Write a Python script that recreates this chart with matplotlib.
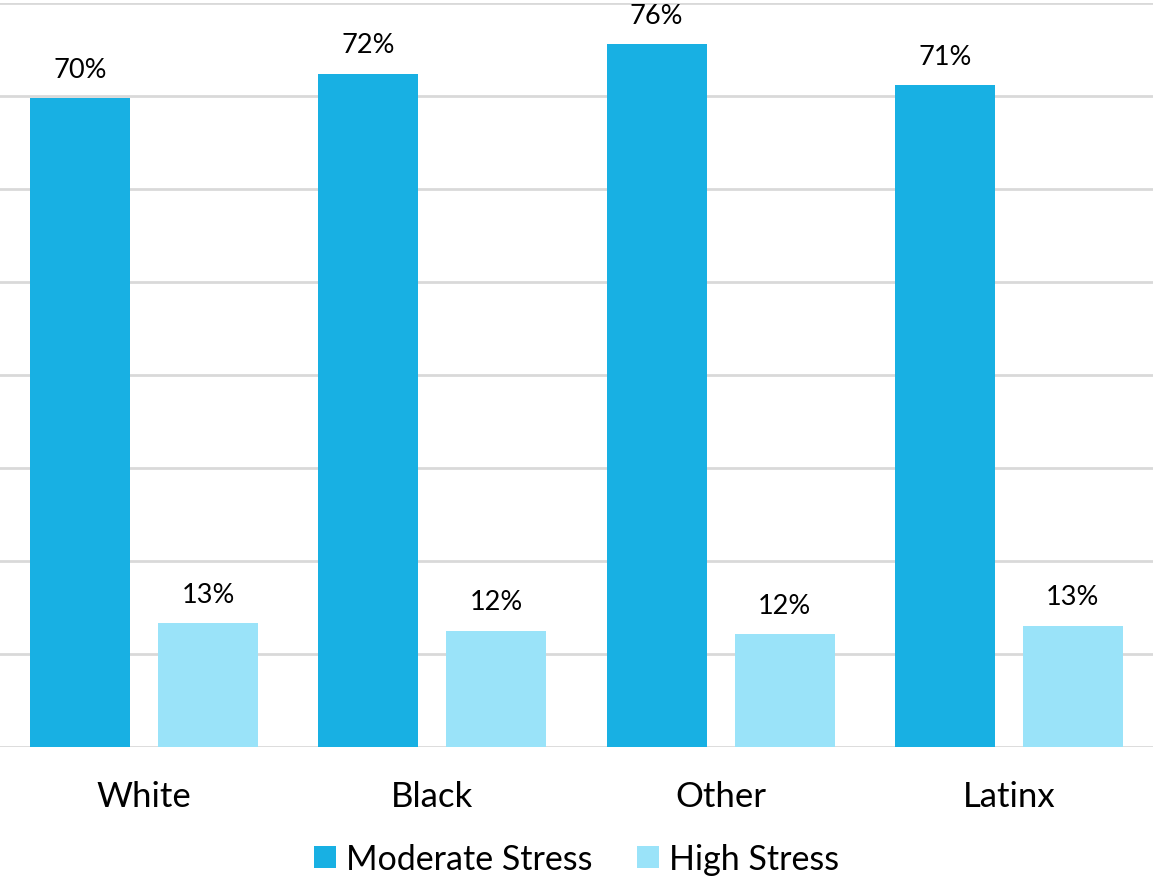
import matplotlib
matplotlib.use("Agg")
import matplotlib.pyplot as plt
import numpy as np

categories = ["White", "Black", "Other", "Latinx"]
moderate = [69.7, 72.3, 75.5, 71.1]
high = [13.3, 12.5, 12.1, 13.0]
moderate_labels = ["70%", "72%", "76%", "71%"]
high_labels = ["13%", "12%", "12%", "13%"]
series_names = ["Moderate Stress", "High Stress"]

plt.rcParams['font.family'] = ['Lato', 'DejaVu Sans']

W, H = 1153, 878
fig = plt.figure(figsize=(W/100, H/100), dpi=100)
ax = fig.add_axes([0, 130/H, 1, (748-3.5)/H])

c_mod = "#18B0E3"
c_high = "#9AE3F9"
x = np.arange(len(categories))
bw = 100/288
off = 64/288
b1 = ax.bar(x - off, moderate, bw, color=c_mod, label=series_names[0], zorder=3)
b2 = ax.bar(x + off, high, bw, color=c_high, label=series_names[1], zorder=3)

for rects, labs in ((b1, moderate_labels), (b2, high_labels)):
    for r, t in zip(rects, labs):
        ax.annotate(t, (r.get_x() + r.get_width()/2, r.get_height()),
                    xytext=(0, 12), textcoords="offset points",
                    ha="center", va="bottom", fontsize=19.5, color="black")

ax.set_xlim(-0.5, 3.5)
ax.set_ylim(0, 80)
ax.set_yticks(np.arange(0, 81, 10))
ax.yaxis.grid(True, color="#D9D9D9", linewidth=2, zorder=0)
ax.set_axisbelow(True)
ax.tick_params(axis="y", left=False, labelleft=False)
ax.tick_params(axis="x", bottom=False, labelsize=25, pad=20)
ax.set_xticks(x)
ax.set_xticklabels(categories)
for s in ax.spines.values():
    s.set_visible(False)

fig.legend(handles=[b1, b2], labels=series_names, loc="center",
           bbox_to_anchor=(0.5, 1 - 860/H), ncol=2, frameon=False,
           fontsize=24.5, handlelength=0.65, handleheight=0.65,
           handletextpad=0.3, columnspacing=1.3)

fig.savefig("out.png", dpi=100)
